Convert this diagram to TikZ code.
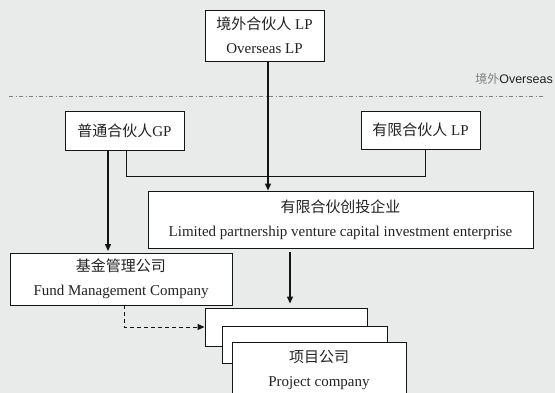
\documentclass[tikz,border=0pt]{standalone}
\usepackage{fontspec}
\setmainfont{Liberation Serif}
\newfontfamily\cjk{Noto Sans CJK SC}
\newfontfamily\lsans{Liberation Sans}
\usetikzlibrary{arrows.meta}
\definecolor{bg}{RGB}{233,235,234}
\definecolor{ln}{RGB}{20,20,20}
\definecolor{tx}{RGB}{35,35,35}
\begin{document}
\begin{tikzpicture}[x=1pt,y=-1pt,
  box/.style={draw=ln,line width=0.9pt,fill=white,inner sep=0pt,align=center,
    text=tx,font=\fontsize{15}{24}\selectfont},
  arr/.style={draw=ln,line width=1.2pt,-{Triangle[length=7pt,width=6pt]}},
  conn/.style={draw=ln,line width=0.9pt},
  dasharr/.style={draw=ln,line width=1pt,dash pattern=on 4pt off 3pt,-{Triangle[length=7pt,width=6pt]}},
  border/.style={draw=gray,line width=1pt,dash pattern=on 4pt off 2.5pt on 1pt off 2.5pt}]
\fill[bg] (0,0) rectangle (555,393);
\useasboundingbox (0,0) rectangle (555,393);

\node[box,minimum width=119pt,minimum height=51pt] (ov) at (264.5,35.5) {{\cjk 境外合伙人} LP\\Overseas LP};
\node[box,minimum width=119pt,minimum height=39pt] (gp) at (124.5,130.5) {{\cjk 普通合伙人}GP};
\node[box,minimum width=119pt,minimum height=38pt] (lp) at (420.5,130) {{\cjk 有限合伙人} LP};
\node[box,minimum width=385pt,minimum height=57pt] (lpvc) at (340.5,219.5) {{\cjk 有限合伙创投企业}\\Limited partnership venture capital investment enterprise};
\node[box,minimum width=222pt,minimum height=52pt] (fund) at (121,279) {{\cjk 基金管理公司}\\Fund Management Company\hspace{22pt}};
\node[box,minimum width=162pt,minimum height=38pt] (p1) at (286,327) {};
\node[box,minimum width=165pt,minimum height=37pt] (p2) at (304.5,344.5) {};
\node[box,minimum width=174pt,minimum height=56pt] (p3) at (319,370) {{\cjk 项目公司}\\Project company};

\coordinate (bl) at (9,97);
\coordinate (br) at (545,97);
\draw[border] (bl) -- (br);
\node[anchor=base east,inner sep=0pt] (os) at (553,84) {{\cjk\fontsize{12}{14}\selectfont\color{gray}境外}{\lsans\fontsize{12.5}{14}\selectfont\color{tx}Overseas}};

\draw[conn] ([xshift=1.5pt]gp.south) -- ++(0,26) -| ([xshift=4.5pt]lp.south);
\draw[arr] ([xshift=3.5pt]ov.south) -- ([xshift=3.5pt]ov.south |- lpvc.north);
\draw[arr,shorten >=1.5pt] ([xshift=-16.5pt]gp.south) -- ([xshift=-16.5pt]gp.south |- fund.north);
\draw[arr,shorten <=4pt,shorten >=4pt] ([xshift=-50.5pt]lpvc.south) -- ([xshift=-50.5pt]lpvc.south |- p1.north);
\draw[dasharr] ([xshift=3pt]fund.south) |- (p1.west);
\end{tikzpicture}
\end{document}
